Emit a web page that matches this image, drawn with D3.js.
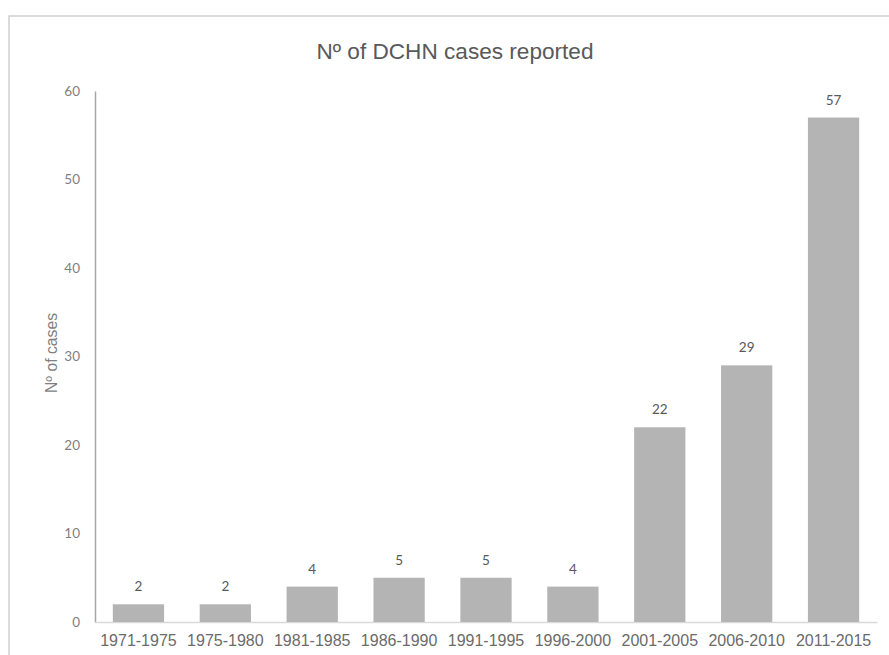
<!DOCTYPE html>
<html>
<head>
<meta charset="utf-8">
<script src="https://cdn.jsdelivr.net/npm/d3@7"></script>
<style>
  html, body { margin: 0; padding: 0; background: #fff; }
  svg { display: block; }
</style>
</head>
<body>
<svg id="chart" width="889" height="655"></svg>
<script>
// Reported cases per five-year period
const periods = ["1971-1975", "1975-1980", "1981-1985", "1986-1990", "1991-1995",
                 "1996-2000", "2001-2005", "2006-2010", "2011-2015"];
const cases = [2, 2, 4, 5, 5, 4, 22, 29, 57];
const yTicks = [0, 10, 20, 30, 40, 50, 60];

const svg = d3.select("#chart");
const W = 889, H = 655;
const plot = { left: 95, right: 877, top: 91, bottom: 622 };
const titleFont = "'Liberation Sans', Arial, sans-serif";

// shrink or grow a text element's font so it spans the given width
function fitWidth(sel, width) {
  const node = sel.node();
  const size = parseFloat(sel.attr("font-size"));
  const len = node.getComputedTextLength();
  if (len > 0) sel.attr("font-size", (size * width / len).toFixed(2));
}

// outer frame (top and left edges visible)
svg.append("path")
  .attr("d", `M9,${H} L9,16 L${W},16`)
  .attr("fill", "none")
  .attr("stroke", "#d0d0d0")
  .attr("stroke-width", 1.5);

const title = svg.append("text")
  .attr("x", 455).attr("y", 59)
  .attr("text-anchor", "middle")
  .attr("font-family", titleFont)
  .attr("font-size", 19)
  .attr("fill", "#595959")
  .text("Nº of DCHN cases reported");
fitWidth(title, 277);

const x = d3.scaleBand().domain(periods).range([plot.left, plot.right]).paddingInner(0.41).paddingOuter(0.205);
const y = d3.scaleLinear().domain([0, 60]).range([plot.bottom, plot.top]);

// y axis
const yAxis = svg.append("g")
  .attr("transform", `translate(${plot.left},0)`)
  .call(d3.axisLeft(y).tickValues(yTicks).tickSize(0).tickPadding(15));
yAxis.select(".domain").attr("stroke", "#a6a6a6").attr("stroke-width", 1.5);
yAxis.selectAll("text")
  .attr("font-family", "Lato, 'Open Sans', sans-serif")
  .attr("font-size", 13.5)
  .attr("fill", "#7f7f7f");

// x axis
const xAxis = svg.append("g")
  .attr("transform", `translate(0,${plot.bottom})`)
  .call(d3.axisBottom(x).tickSize(0).tickPadding(13));
xAxis.select(".domain").attr("stroke", "#d9d9d9").attr("stroke-width", 1.5);
xAxis.selectAll("text")
  .attr("font-family", "'Liberation Sans', Arial, sans-serif")
  .attr("font-size", 16)
  .attr("fill", "#6b6b6b");

// bars
svg.append("g").selectAll("rect")
  .data(cases)
  .join("rect")
  .attr("x", (d, i) => x(periods[i]))
  .attr("width", x.bandwidth())
  .attr("y", d => y(d))
  .attr("height", d => y(0) - y(d))
  .attr("fill", "#b4b4b4");

// value labels
svg.append("g").selectAll("text")
  .data(cases)
  .join("text")
  .attr("x", (d, i) => x(periods[i]) + x.bandwidth() / 2)
  .attr("y", d => y(d) - 13)
  .attr("text-anchor", "middle")
  .attr("font-family", "Lato, 'Open Sans', sans-serif")
  .attr("font-size", 13.5)
  .attr("fill", "#595959")
  .text(d => d);

// y axis title
const yTitle = svg.append("text")
  .attr("transform", `translate(57,353) rotate(-90)`)
  .attr("text-anchor", "middle")
  .attr("font-family", titleFont)
  .attr("font-size", 13)
  .attr("fill", "#7f7f7f")
  .text("Nº of cases");
fitWidth(yTitle, 80);
</script>
</body>
</html>
